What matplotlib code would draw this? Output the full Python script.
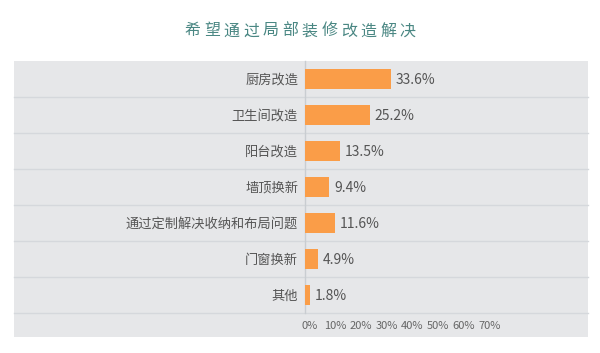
import matplotlib
matplotlib.use("Agg")
import matplotlib.pyplot as plt
from matplotlib.patches import Rectangle
from matplotlib.transforms import ScaledTranslation

plt.rcParams['font.family'] = ['Noto Sans CJK SC', 'DejaVu Sans']

title = "希望通过局部装修改造解决"
categories = ["厨房改造", "卫生间改造", "阳台改造", "墙顶换新",
              "通过定制解决收纳和布局问题", "门窗换新", "其他"]
values = [33.6, 25.2, 13.5, 9.4, 11.6, 4.9, 1.8]
xticks = [0, 10, 20, 30, 40, 50, 60, 70]

W, H = 600, 353
fig = plt.figure(figsize=(6, 3.53), dpi=100)

# gray panel behind the axes
fig.patches.append(Rectangle((14 / W, (H - 337) / H), 574 / W, 276 / H,
                             transform=fig.transFigure, facecolor="#e6e7e9",
                             edgecolor="none", zorder=-5))

# title, letter-spaced
x0 = 300 - (len(title) - 1) * 19.6 / 2
for i, ch in enumerate(title):
    fig.text((x0 + i * 19.6) / W, 1 - 31 / H, ch, ha="center", va="center",
             fontsize=11.5, color="#4a8783")

ax_left, ax_w = 305, 179.2
ax = fig.add_axes([ax_left / W, (H - 313) / H, ax_w / W, 252 / H])
ax.set_facecolor("none")
ax.set_xlim(0, 70)
ax.set_ylim(len(categories) - 0.5, -0.5)

y = list(range(len(categories)))
ax.barh(y, values, height=0.58, color="#fa9d48", zorder=3)
for yi, v in zip(y, values):
    ax.annotate(f"{v}%", (v, yi), xytext=(3.5, -1), textcoords="offset points",
                va="center", ha="left", fontsize=10, color="#555555")

# row separators across the whole panel
xmin = (14 - ax_left) / ax_w
xmax = (588 - ax_left) / ax_w
for b in range(len(categories)):
    ax.axhline(b + 0.5, xmin=xmin, xmax=xmax, color="#d5d8dc", lw=1,
               clip_on=False, zorder=1)

ax.set_yticks(y)
ax.set_yticklabels(categories, fontsize=9.5, color="#555555")
ax.set_xticks(xticks)
ax.set_xticklabels([f"{t}%" for t in xticks], fontsize=8, color="#666666")
ax.tick_params(axis="both", length=0)
ax.tick_params(axis="y", pad=5)
ax.tick_params(axis="x", pad=6)
for lab in ax.get_xticklabels():
    lab.set_transform(lab.get_transform() + ScaledTranslation(5 / 100, 0, fig.dpi_scale_trans))

for s in ["top", "right", "bottom"]:
    ax.spines[s].set_visible(False)
ax.spines["left"].set_color("#c9cdd1")
ax.spines["left"].set_linewidth(1)

fig.savefig("out.png", dpi=100)
